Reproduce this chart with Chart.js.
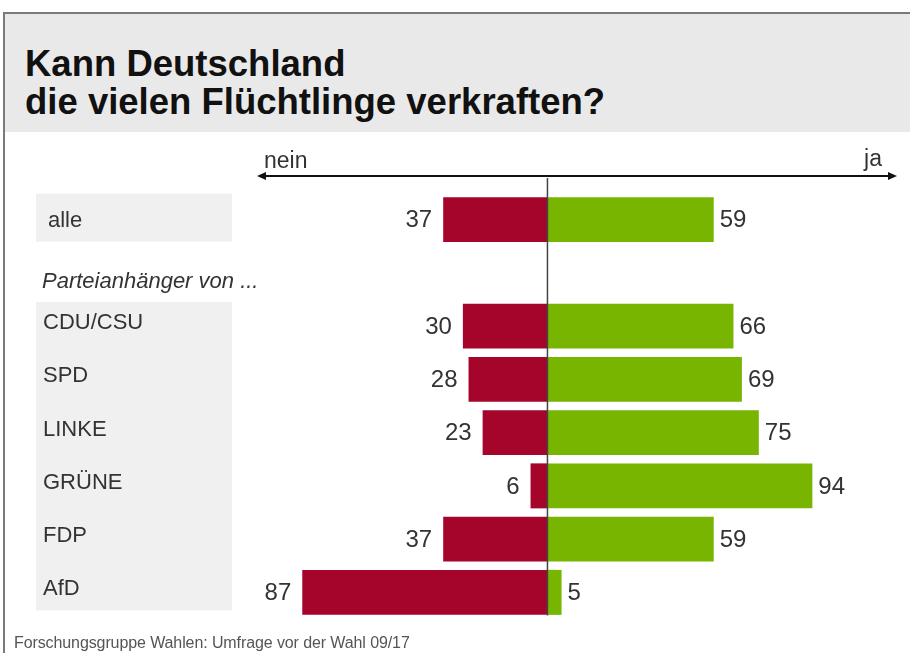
<!DOCTYPE html>
<html>
<head>
<meta charset="utf-8">
<title>Kann Deutschland die vielen Flüchtlinge verkraften?</title>
<script src="https://cdn.jsdelivr.net/npm/chart.js@4.4.0/dist/chart.umd.min.js"></script>
<style>
    body { margin: 0; background: #fff; font-family: "Liberation Sans", Arial, sans-serif; }
    .frame { position: relative; width: 910px; height: 653px; overflow: hidden; }
    .head { position: absolute; left: 4px; top: 12px; width: 906px; height: 118px; background: #e9e9e9; border-top: 2px solid #7a7a7a; }
    .edge { position: absolute; left: 3px; top: 12px; width: 2px; height: 641px; background: #7a7a7a; }
    h1 { position: absolute; left: 25px; top: 45px; margin: 0; font-size: 36.5px; line-height: 38px; font-weight: bold; color: #111; }
    .source { position: absolute; left: 14px; top: 634px; font-size: 16px; line-height: 17px; color: #555; letter-spacing: -0.1px; }
    canvas { position: absolute; left: 0; top: 0; }
</style>
</head>
<body>
<div class="frame">
    <div class="head"></div>
    <div class="edge"></div>
    <h1>Kann Deutschland<br>die vielen Flüchtlinge verkraften?</h1>
    <canvas id="chart" width="910" height="653"></canvas>
    <div class="source">Forschungsgruppe Wahlen: Umfrage vor der Wahl 09/17</div>
</div>

<script>
// rows top to bottom, the empty one carries the "Parteianhänger von ..." line
const groups = ['alle', '', 'CDU/CSU', 'SPD', 'LINKE', 'GRÜNE', 'FDP', 'AfD'];
const nein = [37, null, 30, 28, 23, 6, 37, 87];
const ja = [59, null, 66, 69, 75, 94, 59, 5];
const subhead = 'Parteianhänger von ...';

const RED = '#a5052a';
const GREEN = '#77b500';
const FONT = '"Liberation Sans", Arial, sans-serif';

// gray boxes, row names, arrow, centre line and value labels
const decor = {
    id: 'decor',
    beforeDatasetsDraw(chart) {
        const ctx = chart.ctx;
        const y = chart.scales.y;
        ctx.save();
        ctx.fillStyle = '#f0f0f0';
        // "alle" box
        ctx.fillRect(36, y.getPixelForValue(0) - 26, 196, 48);
        // party block
        const top = y.getPixelForValue(2) - 24;
        const bottom = y.getPixelForValue(groups.length - 1) + 18;
        ctx.fillRect(36, top, 196, bottom - top);

        ctx.fillStyle = '#333';
        ctx.font = '22px ' + FONT;
        ctx.textAlign = 'left';
        ctx.textBaseline = 'middle';
        groups.forEach((g, i) => {
            if (!g) return;
            if (i === 0) ctx.fillText(g, 48, y.getPixelForValue(i) + 1);
            else ctx.fillText(g, 43, y.getPixelForValue(i) - 3);
        });
        ctx.font = 'italic 22px ' + FONT;
        ctx.fillText(subhead, 42, y.getPixelForValue(1) + 9);

        // nein / ja arrow
        const a = chart.chartArea;
        const ay = 176;
        const x0 = a.left - 3, x1 = a.right + 17;
        ctx.strokeStyle = '#111';
        ctx.fillStyle = '#111';
        ctx.lineWidth = 2;
        ctx.beginPath();
        ctx.moveTo(x0 + 6, ay);
        ctx.lineTo(x1 - 6, ay);
        ctx.stroke();
        ctx.beginPath();
        ctx.moveTo(x0, ay); ctx.lineTo(x0 + 9, ay - 4); ctx.lineTo(x0 + 9, ay + 4); ctx.closePath();
        ctx.fill();
        ctx.beginPath();
        ctx.moveTo(x1, ay); ctx.lineTo(x1 - 9, ay - 4); ctx.lineTo(x1 - 9, ay + 4); ctx.closePath();
        ctx.fill();

        ctx.fillStyle = '#333';
        ctx.font = '23px ' + FONT;
        ctx.textBaseline = 'alphabetic';
        ctx.textAlign = 'left';
        ctx.fillText('nein', a.left + 4, 168);
        ctx.textAlign = 'right';
        ctx.fillText('ja', a.right + 2, 166);
        ctx.restore();
    },
    afterDatasetsDraw(chart) {
        const ctx = chart.ctx;
        const x0 = chart.scales.x.getPixelForValue(0);
        ctx.save();
        ctx.strokeStyle = '#444';
        ctx.lineWidth = 1.5;
        ctx.beginPath();
        ctx.moveTo(x0, 178);
        ctx.lineTo(x0, chart.scales.y.getPixelForValue(groups.length - 1) + 23);
        ctx.stroke();

        ctx.fillStyle = '#333';
        ctx.font = '24px ' + FONT;
        ctx.textBaseline = 'middle';
        chart.data.datasets.forEach((ds, di) => {
            const meta = chart.getDatasetMeta(di);
            meta.data.forEach((bar, i) => {
                const v = ds.data[i];
                if (v === null) return;
                if (di === 0) {
                    ctx.textAlign = 'right';
                    ctx.fillText(String(-v), bar.x - 11, bar.y + 1);
                } else {
                    ctx.textAlign = 'left';
                    ctx.fillText(String(v), bar.x + 6, bar.y + 1);
                }
            });
        });
        ctx.restore();
    }
};

new Chart(document.getElementById('chart'), {
    type: 'bar',
    data: {
        labels: groups,
        datasets: [
            {
                label: 'nein',
                data: nein.map(v => v === null ? null : -v),
                backgroundColor: RED,
                barPercentage: 0.845,
                categoryPercentage: 1
            },
            {
                label: 'ja',
                data: ja,
                backgroundColor: GREEN,
                barPercentage: 0.845,
                categoryPercentage: 1
            }
        ]
    },
    options: {
        indexAxis: 'y',
        responsive: false,
        animation: false,
        layout: { padding: { left: 260, right: 30, top: 193, bottom: 34 } },
        scales: {
            x: { stacked: true, min: -102, max: 118, display: false },
            y: { stacked: true, display: false }
        },
        plugins: {
            legend: { display: false },
            tooltip: { enabled: false }
        }
    },
    plugins: [decor]
});
</script>
</body>
</html>
